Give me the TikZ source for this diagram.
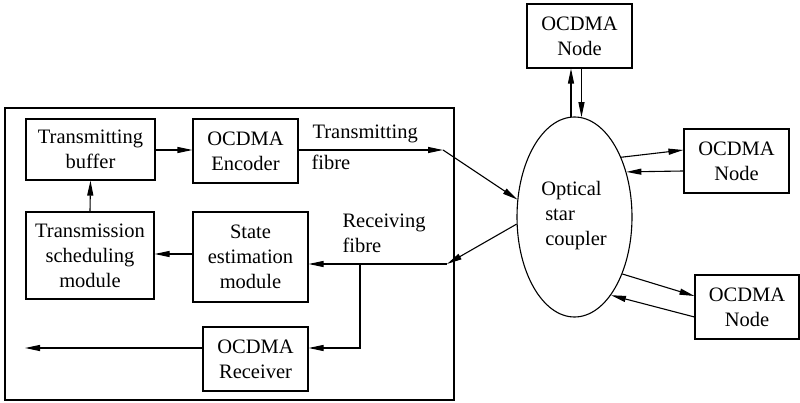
\documentclass[tikz,border=0pt]{standalone}
\usepackage{fontspec}
\setmainfont{LiberationSerif}[Extension=.ttf,UprightFont=*-Regular,BoldFont=*-Bold]
\usetikzlibrary{arrows.meta,shapes.geometric,calc}
\begin{document}
\begin{tikzpicture}[x=1pt,y=-1pt,
  line width=1.1pt,
  font=\rmfamily\fontsize{20.5}{25}\selectfont,
  blk/.style={draw, rectangle, align=center, inner sep=0pt},
  arr/.style={-{Triangle[length=15pt,width=6pt]}},
  lbl/.style={anchor=base west, inner sep=0pt}]
\useasboundingbox (0,0) rectangle (800,403);

% terminal enclosure
\draw (5,108) rectangle (454,400);

% blocks inside the terminal
\node[blk, minimum width=129, minimum height=61] (buf) at (90.5,149.5) {Transmitting\\buffer};
\node[blk, minimum width=105, minimum height=64] (enc) at (245.5,151) {OCDMA\\Encoder};
\node[blk, minimum width=128, minimum height=87] (sched) at (90,255.5) {Transmission\\scheduling\\module};
\node[blk, minimum width=115, minimum height=90] (state) at (250.5,257) {State\\estimation\\module};
\node[blk, minimum width=105, minimum height=64] (recv) at (255.5,359) {OCDMA\\Receiver};

% star coupler and remote nodes
\node[draw, ellipse, minimum width=115, minimum height=200, inner sep=0pt] (cpl) at (574.5,217) {};
\node[align=left, inner sep=0pt] (cpltxt) at (574,216) {Optical\\\hspace{4pt}star\\\hspace{4pt}coupler};
\node[blk, minimum width=105, minimum height=64] (nT) at (579.5,36) {OCDMA\\Node};
\node[blk, minimum width=105, minimum height=64] (nR) at (736.5,161) {OCDMA\\Node};
\node[blk, minimum width=104, minimum height=64] (nB) at (747,307) {OCDMA\\Node};

% fibre labels
\node[lbl] (tf1) at (312,139) {Transmitting};
\node[lbl] (tf2) at (311,170) {fibre};
\node[lbl] (rf1) at (342,228) {Receiving};
\node[lbl] (rf2) at (342,253) {fibre};

% junction points
\coordinate (tx) at (443,150);
\coordinate (rx) at (447,264);
\coordinate (br) at (360,264);
\coordinate (bd) at (360,348);
\coordinate (out) at (25,348);

% internal connections
\draw[arr] (buf.east |- tx) -- (enc.west |- tx);
\draw[arr] (sched.north) -- (buf.south);
\draw[arr] (state.west |- 0,254) -- (sched.east |- 0,254);
\draw[arr] (enc.east |- tx) -- (tx);
\draw[arr] (tx) -- (cpl.163);
\draw[arr] (cpl.187) -- (rx);
\draw[arr] (rx) -- (state.east |- rx);
\draw[arr] (br) -- (bd) -- (recv.east |- bd);
\draw[arr] (recv.west |- bd) -- (out);

% coupler to remote nodes
\draw[arr] (cpl.92.6) -- (cpl.92.6 |- nT.south);
\draw[arr] (nT.south -| cpl.86.8) -- (cpl.86.8);
\draw[arr] (cpl.52) -- ($(nR.west)+(0,-11)$);
\draw[arr] ($(nR.west)+(0,10)$) -- (cpl.41);
\draw[arr] (cpl.-50.6) -- ($(nB.west)+(0,-11)$);
\draw[arr] ($(nB.west)+(0,10)$) -- (cpl.-65);
\end{tikzpicture}
\end{document}
